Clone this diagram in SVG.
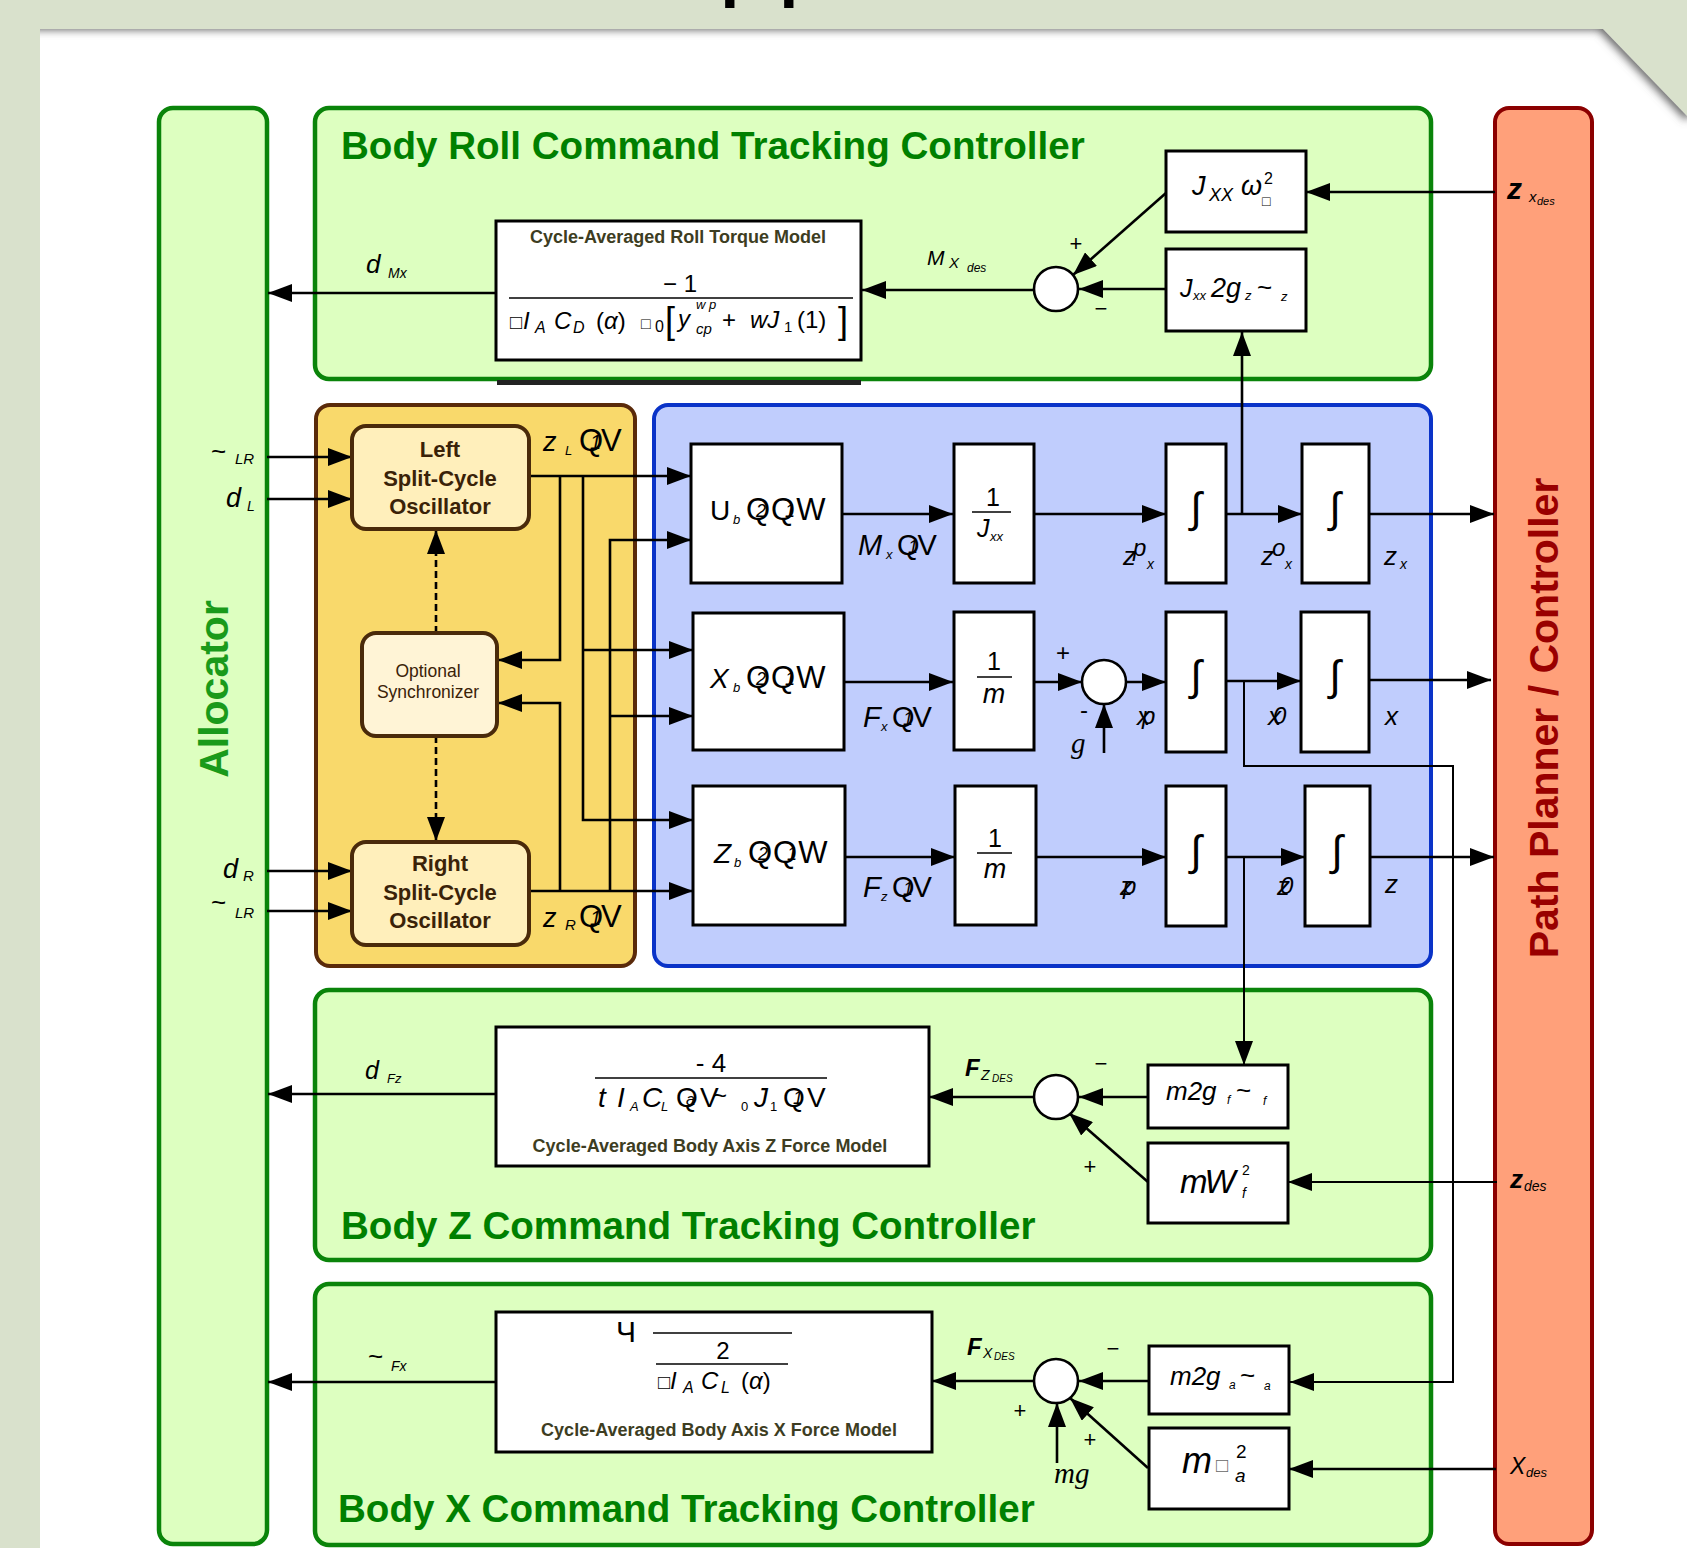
<svg xmlns="http://www.w3.org/2000/svg" width="1687" height="1548" viewBox="0 0 1687 1548">
<defs>
<style>
.blk{fill:#fff;stroke:#000;stroke-width:3}
.ln{fill:none;stroke:#000;stroke-width:2.6}
.thin{fill:none;stroke:#000;stroke-width:2}
.ar{marker-end:url(#ah)}
.dash{stroke-dasharray:7 4}
.sum{fill:#fff;stroke:#000;stroke-width:2.6}
text{font-family:"Liberation Sans",Arial,sans-serif;fill:#000}
.it{font-style:italic}
.up{font-style:normal}
.ser{font-family:"Liberation Serif","Times New Roman",serif;font-style:italic}
.cap{font-weight:bold;font-size:18px;fill:#3d3d22;text-anchor:middle}
.ttl{font-weight:bold;font-size:38.6px;fill:#008000}
.osc{font-weight:bold;font-size:22px;fill:#3a2208;text-anchor:middle}
.syn{font-size:17.5px;fill:#3a2208;text-anchor:middle}
.grn{fill:#ddffc0;stroke:#0a840a;stroke-width:4.5}
.mid{text-anchor:middle}
</style>
<marker id="ah" viewBox="0 0 24 18" refX="24" refY="9" markerWidth="24" markerHeight="18" markerUnits="userSpaceOnUse" orient="auto"><path d="M0,0 L24,9 L0,18 z" fill="#000"/></marker>
<filter id="blur" x="-5%" y="-50%" width="110%" height="200%"><feGaussianBlur stdDeviation="4"/></filter>
<clipPath id="page"><polygon points="40,29 1603,29 1687,116 1687,1548 40,1548"/></clipPath>
</defs>
<rect width="1687" height="1548" fill="#d9e1cc"/>
<text x="718" y="-14" font-size="106">pp</text>
<polygon points="40,29 1603,29 1687,116 1687,1548 40,1548" fill="#fff"/>
<g clip-path="url(#page)"><polyline points="30,24 1601,24 1690,116" fill="none" stroke="#666" stroke-width="12" filter="url(#blur)"/></g>

<g id="allocator"><rect x="159" y="108" width="108" height="1436" rx="14" class="grn"/>
<text transform="translate(228,689) rotate(-90)" class="mid" font-size="41" font-weight="bold" style="fill:#1a9a1a">Allocator</text></g>
<g id="planner"><rect x="1495" y="108" width="97" height="1436" rx="14" fill="#ffa07a" stroke="#8b0000" stroke-width="4"/>
<text transform="translate(1558,718) rotate(-90)" class="mid" font-size="41" font-weight="bold" style="fill:#990000">Path Planner / Controller</text></g>

<g id="roll-controller"><rect x="315" y="108" width="1116" height="271" rx="14" class="grn"/>
<rect x="497" y="380" width="364" height="5" fill="#222"/>
<text x="341" y="159" class="ttl">Body Roll Command Tracking Controller</text></g>
<g id="yellow-group"><rect x="316" y="405" width="319" height="561" rx="14" fill="#f9d96b" stroke="#5a2a0a" stroke-width="4"/></g>
<g id="blue-group"><rect x="654" y="405" width="777" height="561" rx="14" fill="#c0cdfd" stroke="#0a33c8" stroke-width="4"/></g>
<g id="z-controller"><rect x="315" y="990" width="1116" height="270" rx="14" class="grn"/>
<text x="341" y="1239" class="ttl">Body Z Command Tracking Controller</text></g>
<g id="x-controller"><rect x="315" y="1284" width="1116" height="261" rx="14" class="grn"/>
<text x="338" y="1522" class="ttl">Body X Command Tracking Controller</text></g>

<g id="connectors">
<path class="ln ar" d="M1495,192 H1306"/>
<path class="ln ar" d="M1166,193 L1073,275"/>
<path class="ln ar" d="M1166,289 H1079"/>
<path class="ln ar" d="M1034,290 H862"/>
<path class="ln ar" d="M496,293 H268"/>
<path class="ln ar" d="M1242,514 V332"/>
<path class="ln ar" d="M267,457 H352"/>
<path class="ln ar" d="M267,499 H352"/>
<path class="ln ar" d="M267,871 H352"/>
<path class="ln ar" d="M267,911 H352"/>
<path class="ln ar dash" d="M436,633 V530"/>
<path class="ln ar dash" d="M436,736 V841"/>
<path class="ln ar" d="M529,476 H691"/>
<path class="ln ar" d="M560,476 V660 H498"/>
<path class="ln ar" d="M583,476 V820 H693"/>
<path class="ln ar" d="M583,650 H693"/>
<path class="ln ar" d="M529,891 H693"/>
<path class="ln ar" d="M560,891 V703 H498"/>
<path class="ln ar" d="M610,891 V540 H691"/>
<path class="ln ar" d="M610,716 H693"/>
<path class="ln ar" d="M842,514 H953"/>
<path class="ln ar" d="M1034,514 H1166"/>
<path class="ln ar" d="M1226,514 H1302"/>
<path class="ln ar" d="M1369,514 H1494"/>
<path class="ln ar" d="M844,682 H953"/>
<path class="ln ar" d="M1034,682 H1082"/>
<path class="ln ar" d="M1126,682 H1166"/>
<path class="ln ar" d="M1226,681 H1301"/>
<path class="ln ar" d="M1369,680 H1491"/>
<path class="ln ar" d="M1104,753 V704"/>
<path class="thin ar" d="M1244,681 V766 H1453 V1382 H1290"/>
<path class="ln ar" d="M845,857 H955"/>
<path class="ln ar" d="M1036,857 H1166"/>
<path class="ln ar" d="M1226,857 H1305"/>
<path class="ln ar" d="M1370,857 H1494"/>
<path class="thin ar" d="M1244,857 V1065"/>
<path class="thin ar" d="M1497,1182 H1288"/>
<path class="ln ar" d="M1148,1182 L1069,1113"/>
<path class="ln ar" d="M1148,1097 H1079"/>
<path class="ln ar" d="M1034,1097 H929"/>
<path class="ln ar" d="M496,1094 H268"/>
<path class="ln ar" d="M1149,1381 H1079"/>
<path class="ln ar" d="M1034,1381 H932"/>
<path class="ln ar" d="M496,1382 H268"/>
<path class="ln ar" d="M1057,1463 V1403"/>
<path class="ln ar" d="M1148,1468 L1070,1398"/>
<path class="ln ar" d="M1496,1469 H1289"/>
</g>

<g id="roll-model"><rect x="496" y="221" width="365" height="139" class="blk"/>
<text x="678" y="243" class="cap">Cycle-Averaged Roll Torque Model</text>
<text x="680" y="292" class="mid" font-size="24">− 1</text>
<line x1="509" y1="298" x2="853" y2="298" stroke="#000" stroke-width="1.5"/>
<text y="329" font-size="24"><tspan x="510" font-size="20">□</tspan><tspan x="523" class="it">I</tspan><tspan x="535" y="333" font-size="16" class="it">A</tspan><tspan x="554" y="329" class="it">C</tspan><tspan x="573" y="333" font-size="16" class="it">D</tspan><tspan x="596" y="329">(<tspan class="it">α</tspan>)</tspan><tspan x="641" font-size="16">□</tspan><tspan x="655" y="332" font-size="16">0</tspan><tspan x="665" y="333" font-size="36">[</tspan><tspan x="678" y="327" class="it">y</tspan><tspan x="696" y="309" font-size="13" class="it">w p</tspan><tspan x="696" y="334" font-size="15" class="it">cp</tspan><tspan x="722" y="328">+</tspan><tspan x="750" y="328" class="it">wJ</tspan><tspan x="784" y="332" font-size="15">1</tspan><tspan x="797" y="328">(1)</tspan><tspan x="838" y="333" font-size="36">]</tspan></text></g>
<g id="roll-labels">
<text x="366" y="273" font-size="26" class="it">d<tspan x="388" y="278" font-size="14">Mx</tspan></text>
<text x="927" y="265" font-size="21" class="it">M<tspan x="949" y="268" font-size="15">X</tspan><tspan x="967" y="272" font-size="12">des</tspan></text>
<text x="1076" y="251" class="mid" font-size="22">+</text>
<text x="1101" y="316" class="mid" font-size="22">−</text>
<text x="1507" y="199" font-size="30" font-weight="bold" class="it">z<tspan x="1529" y="202" font-size="15" font-weight="normal">x</tspan><tspan x="1537" y="205" font-size="11" font-weight="normal">des</tspan></text>
</g>
<g id="roll-sum"><circle cx="1056" cy="289" r="22" class="sum"/></g>
<g id="jw-box"><rect x="1166" y="151" width="140" height="81" class="blk"/>
<text x="1192" y="195" font-size="27" class="it">J<tspan x="1209" y="201" font-size="18">XX</tspan><tspan x="1241" y="195">ω</tspan><tspan x="1264" y="184" font-size="16" class="up">2</tspan><tspan x="1262" y="206" font-size="14" class="up">□</tspan></text></g>
<g id="jg-box"><rect x="1166" y="249" width="140" height="82" class="blk"/>
<text x="1180" y="297" font-size="25" class="it">J<tspan x="1193" y="300" font-size="13">xx</tspan><tspan x="1211" y="297" font-size="27">2g</tspan><tspan x="1245" y="300" font-size="13">z</tspan><tspan x="1257" y="296" font-size="26" class="up">~</tspan><tspan x="1281" y="301" font-size="13">z</tspan></text></g>

<g id="left-osc"><rect x="352" y="426" width="177" height="103" rx="14" fill="#ffefbb" stroke="#4a2a0a" stroke-width="4"/>
<text x="440" y="457" class="osc">Left</text><text x="440" y="486" class="osc">Split-Cycle</text><text x="440" y="514" class="osc">Oscillator</text></g>
<g id="sync"><rect x="362" y="633" width="135" height="103" rx="14" fill="#fff4d6" stroke="#4a2a0a" stroke-width="4"/>
<text x="428" y="677" class="syn">Optional</text><text x="428" y="698" class="syn">Synchronizer</text></g>
<g id="right-osc"><rect x="352" y="842" width="177" height="103" rx="14" fill="#ffefbb" stroke="#4a2a0a" stroke-width="4"/>
<text x="440" y="871" class="osc">Right</text><text x="440" y="900" class="osc">Split-Cycle</text><text x="440" y="928" class="osc">Oscillator</text></g>
<g id="osc-labels">
<text x="211" y="460" font-size="26">~<tspan x="235" y="464" font-size="15" class="it">LR</tspan></text>
<text x="226" y="507" font-size="27" class="it">d<tspan x="247" y="511" font-size="14">L</tspan></text>
<text x="223" y="878" font-size="27" class="it">d<tspan x="243" y="881" font-size="15">R</tspan></text>
<text x="211" y="911" font-size="26">~<tspan x="235" y="918" font-size="15" class="it">LR</tspan></text>
<text x="543" y="451" font-size="27" class="it">z<tspan x="565" y="455" font-size="13">L</tspan><tspan x="579" y="451" font-size="31" class="up" letter-spacing="-2">QV</tspan><tspan x="590" y="449" font-size="20">1</tspan></text>
<text x="543" y="927" font-size="27" class="it">z<tspan x="565" y="930" font-size="15">R</tspan><tspan x="579" y="927" font-size="31" class="up" letter-spacing="-2">QV</tspan><tspan x="590" y="925" font-size="20">1</tspan></text>
</g>

<g id="u-box"><rect x="691" y="444" width="151" height="139" class="blk"/>
<text x="710" y="520" font-size="28">U<tspan x="733" y="524" font-size="13" class="it">b</tspan><tspan x="746" y="520" font-size="31" letter-spacing="1">QQW</tspan><tspan x="756" y="517" font-size="18" class="it">2</tspan><tspan x="785" y="517" font-size="18" class="it">1</tspan></text></g>
<g id="x-box"><rect x="693" y="613" width="151" height="137" class="blk"/>
<text x="710" y="688" font-size="28" class="it">X<tspan x="733" y="692" font-size="13">b</tspan><tspan x="746" y="688" font-size="31" class="up" letter-spacing="1">QQW</tspan><tspan x="756" y="685" font-size="18">2</tspan><tspan x="785" y="685" font-size="18">1</tspan></text></g>
<g id="z-box"><rect x="693" y="786" width="152" height="139" class="blk"/>
<text x="714" y="863" font-size="28" class="it">Z<tspan x="734" y="867" font-size="13">b</tspan><tspan x="748" y="863" font-size="31" class="up" letter-spacing="1">QQW</tspan><tspan x="758" y="860" font-size="18">2</tspan><tspan x="787" y="860" font-size="18">1</tspan></text></g>
<g id="blue-labels">
<text x="858" y="555" font-size="29" class="it">M<tspan x="886" y="559" font-size="13">x</tspan><tspan x="897" y="555" class="up" letter-spacing="-2">QV</tspan><tspan x="908" y="553" font-size="18">1</tspan></text>
<text x="863" y="727" font-size="29" class="it">F<tspan x="881" y="731" font-size="13">x</tspan><tspan x="892" y="727" class="up" letter-spacing="-2">QV</tspan><tspan x="903" y="725" font-size="18">1</tspan></text>
<text x="863" y="897" font-size="29" class="it">F<tspan x="881" y="901" font-size="13">z</tspan><tspan x="892" y="897" class="up" letter-spacing="-2">QV</tspan><tspan x="903" y="895" font-size="18">1</tspan></text>
<text x="1123" y="565" font-size="26" class="it">z<tspan x="1133" y="556" font-size="24">p</tspan><tspan x="1147" y="569" font-size="14">x</tspan></text>
<text x="1261" y="565" font-size="26" class="it">z<tspan x="1272" y="556" font-size="24">o</tspan><tspan x="1285" y="569" font-size="14">x</tspan></text>
<text x="1384" y="565" font-size="26" class="it">z<tspan x="1400" y="569" font-size="14">x</tspan></text>
<text x="1063" y="661" class="mid" font-size="24">+</text>
<text x="1084" y="718" class="mid" font-size="24">-</text>
<text x="1071" y="753" font-size="29" class="ser">g</text>
<text x="1137" y="725" font-size="26" class="it">x<tspan x="1142" y="724" font-size="24">p</tspan></text>
<text x="1268" y="725" font-size="26" class="it">x<tspan x="1273" y="724" font-size="24">0</tspan></text>
<text x="1385" y="725" font-size="26" class="it">x</text>
<text x="1120" y="895" font-size="26" class="it">z<tspan x="1123" y="894" font-size="24">p</tspan></text>
<text x="1277" y="895" font-size="26" class="it">z<tspan x="1280" y="894" font-size="24">0</tspan></text>
<text x="1385" y="893" font-size="26" class="it">z</text>
</g>
<g id="jxx-box"><rect x="954" y="444" width="80" height="139" class="blk"/>
<text x="993" y="506" class="mid" font-size="25">1</text><line x1="972" y1="512" x2="1011" y2="512" stroke="#000" stroke-width="1.5"/>
<text x="977" y="537" font-size="25" class="it">J<tspan x="990" y="541" font-size="13">xx</tspan></text></g>
<g id="m-box-x"><rect x="954" y="612" width="80" height="138" class="blk"/>
<text x="994" y="670" class="mid" font-size="25">1</text><line x1="977" y1="677" x2="1012" y2="677" stroke="#000" stroke-width="1.5"/>
<text x="994" y="703" class="mid it" font-size="27">m</text></g>
<g id="m-box-z"><rect x="955" y="786" width="81" height="139" class="blk"/>
<text x="995" y="847" class="mid" font-size="25">1</text><line x1="977" y1="853" x2="1012" y2="853" stroke="#000" stroke-width="1.5"/>
<text x="995" y="878" class="mid it" font-size="27">m</text></g>
<g id="x-sum"><circle cx="1104" cy="682" r="22" class="sum"/></g>
<g id="int1"><rect x="1166" y="444" width="60" height="139" class="blk"/><text x="1196" y="522" class="mid it" font-size="42">∫</text></g>
<g id="int2"><rect x="1302" y="444" width="67" height="139" class="blk"/><text x="1335" y="522" class="mid it" font-size="42">∫</text></g>
<g id="int3"><rect x="1166" y="612" width="60" height="140" class="blk"/><text x="1196" y="690" class="mid it" font-size="42">∫</text></g>
<g id="int4"><rect x="1301" y="612" width="68" height="140" class="blk"/><text x="1335" y="690" class="mid it" font-size="42">∫</text></g>
<g id="int5"><rect x="1166" y="786" width="60" height="140" class="blk"/><text x="1196" y="865" class="mid it" font-size="42">∫</text></g>
<g id="int6"><rect x="1305" y="786" width="65" height="140" class="blk"/><text x="1337" y="865" class="mid it" font-size="42">∫</text></g>

<g id="z-model"><rect x="496" y="1027" width="433" height="139" class="blk"/>
<text x="711" y="1072" class="mid" font-size="26">- 4</text>
<line x1="595" y1="1078" x2="827" y2="1078" stroke="#000" stroke-width="1.5"/>
<text y="1107" font-size="28"><tspan x="598" class="it">t</tspan><tspan x="617" class="it">I</tspan><tspan x="630" y="1111" font-size="13" class="it">A</tspan><tspan x="642" y="1107" class="it">C</tspan><tspan x="661" y="1111" font-size="13" class="it">L</tspan><tspan x="676" y="1107">Q</tspan><tspan x="686" y="1105" font-size="16" class="it">a</tspan><tspan x="700" y="1107">V</tspan><tspan x="713" y="1104" font-size="24">~</tspan><tspan x="741" y="1111" font-size="13">0</tspan><tspan x="754" y="1107" class="it">J</tspan><tspan x="770" y="1111" font-size="13">1</tspan><tspan x="783" y="1107">Q</tspan><tspan x="793" y="1104" font-size="18" class="it">1</tspan><tspan x="807" y="1107">V</tspan></text>
<text x="710" y="1152" class="cap">Cycle-Averaged Body Axis Z Force Model</text></g>
<g id="z-labels">
<text x="365" y="1079" font-size="25" class="it">d<tspan x="387" y="1083" font-size="13">Fz</tspan></text>
<text x="965" y="1076" font-size="24" font-weight="bold" class="it">F<tspan x="981" y="1080" font-size="14" font-weight="normal">Z</tspan><tspan x="992" y="1082" font-size="10" font-weight="normal">DES</tspan></text>
<text x="1101" y="1071" class="mid" font-size="22">−</text>
<text x="1090" y="1174" class="mid" font-size="22">+</text>
<text x="1510" y="1188" font-size="26" font-weight="bold" class="it">z<tspan x="1524" y="1191" font-size="14" font-weight="normal">des</tspan></text>
</g>
<g id="z-sum"><circle cx="1056" cy="1097" r="22" class="sum"/></g>
<g id="m2gf-box"><rect x="1148" y="1065" width="140" height="63" class="blk"/>
<text x="1166" y="1100" font-size="26" class="it">m2g<tspan x="1227" y="1104" font-size="12">f</tspan><tspan x="1236" y="1099" class="up">~</tspan><tspan x="1263" y="1105" font-size="12">f</tspan></text></g>
<g id="mwf-box"><rect x="1148" y="1143" width="140" height="80" class="blk"/>
<text x="1180" y="1193" font-size="33" class="it" letter-spacing="-3">mW<tspan x="1242" y="1175" font-size="14" class="up" letter-spacing="0">2</tspan><tspan x="1242" y="1198" font-size="14" letter-spacing="0">f</tspan></text></g>

<g id="x-model"><rect x="496" y="1312" width="436" height="140" class="blk"/>
<text x="616" y="1342" font-size="30">Ч</text>
<line x1="653" y1="1333" x2="792" y2="1333" stroke="#000" stroke-width="1.5"/>
<text x="723" y="1359" class="mid" font-size="24">2</text>
<line x1="656" y1="1364" x2="788" y2="1364" stroke="#000" stroke-width="1.5"/>
<text y="1389" font-size="24"><tspan x="658" font-size="20">□</tspan><tspan x="670" class="it">I</tspan><tspan x="683" y="1393" font-size="16" class="it">A</tspan><tspan x="701" y="1389" class="it">C</tspan><tspan x="721" y="1393" font-size="16" class="it">L</tspan><tspan x="741" y="1389">(<tspan class="it">α</tspan>)</tspan></text>
<text x="719" y="1436" class="cap">Cycle-Averaged Body Axis X Force Model</text></g>
<g id="x-labels">
<text x="368" y="1365" font-size="26">~<tspan x="391" y="1371" font-size="14" class="it">Fx</tspan></text>
<text x="967" y="1355" font-size="24" font-weight="bold" class="it">F<tspan x="983" y="1358" font-size="14" font-weight="normal">X</tspan><tspan x="994" y="1360" font-size="10" font-weight="normal">DES</tspan></text>
<text x="1113" y="1356" class="mid" font-size="22">−</text>
<text x="1020" y="1418" class="mid" font-size="22">+</text>
<text x="1090" y="1447" class="mid" font-size="22">+</text>
<text x="1054" y="1483" font-size="29" class="ser">mg</text>
<text x="1510" y="1474" font-size="23" class="it">X<tspan x="1526" y="1477" font-size="13">des</tspan></text>
</g>
<g id="x-sum"><circle cx="1056" cy="1381" r="22" class="sum"/></g>
<g id="m2ga-box"><rect x="1149" y="1346" width="140" height="68" class="blk"/>
<text x="1170" y="1385" font-size="26" class="it">m2g<tspan x="1229" y="1389" font-size="12">a</tspan><tspan x="1240" y="1384" class="up">~</tspan><tspan x="1264" y="1390" font-size="12">a</tspan></text></g>
<g id="ma-box"><rect x="1149" y="1428" width="140" height="81" class="blk"/>
<text x="1182" y="1473" font-size="36" class="it">m<tspan x="1216" y="1472" font-size="20" class="up" style="fill:#666">□</tspan><tspan x="1236" y="1458" font-size="19" class="up">2</tspan><tspan x="1235" y="1482" font-size="19">a</tspan></text></g>
</svg>
